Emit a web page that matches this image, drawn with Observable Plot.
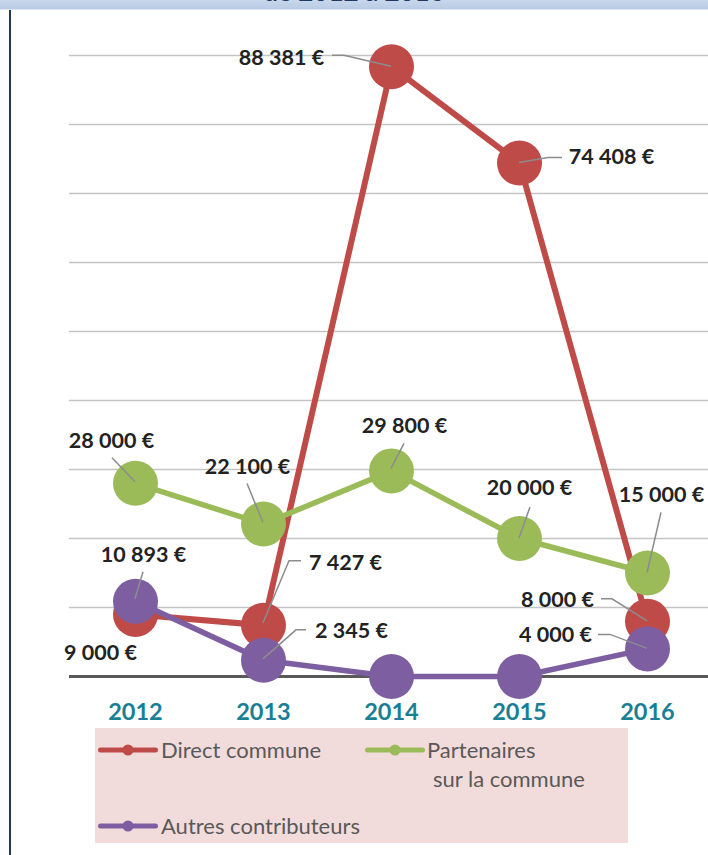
<!DOCTYPE html>
<html>
<head>
<meta charset="utf-8">
<script src="https://cdn.jsdelivr.net/npm/d3@7"></script>
<script src="https://cdn.jsdelivr.net/npm/@observablehq/plot@0.6"></script>
<style>
  html, body { margin: 0; padding: 0; background: #fff; }
  #wrap { position: relative; width: 708px; height: 855px; overflow: hidden; font-family: Lato, "Open Sans", sans-serif; }
  #band { position: absolute; left: 0; top: 0; width: 708px; height: 9px; background: linear-gradient(#c8d7eb, #b9cce5); border-bottom: 1px solid #dfe7f1; overflow: hidden; }
  #band span { position: absolute; left: 0; top: -22.5px; width: 708px; text-align: center; font: bold 26px Lato, sans-serif; line-height: 26px; color: #1f3864; white-space: nowrap; }
  #navy { position: absolute; left: 9px; top: 10px; width: 2px; height: 845px; background: #1f3864; }
  #chart { position: absolute; left: 0; top: 0; }
  #chart svg [aria-label^="x-axis"] text { font-size: 23.5px; font-weight: 700; fill: #1a7f94; font-family: Lato, sans-serif; }
  #legend { position: absolute; left: 95px; top: 728px; width: 533px; height: 115px; background: #f2dcdb; }
  .li { position: absolute; font-size: 22px; line-height: 29px; color: #595959; white-space: nowrap; }
  .sw { position: absolute; }
</style>
</head>
<body>
<div id="wrap">
  <div id="chart"></div>
  <div id="band"><span>de 2012 à 2016</span></div>
  <div id="navy"></div>
  <div id="legend"></div>
</div>
<script>
// ---- data ----
const years = [2012, 2013, 2014, 2015, 2016];
const seriesNames = ["Direct commune", "Partenaires sur la commune", "Autres contributeurs"];
const directCommune = [9000, 7427, 88381, 74408, 8000];
const partenaires = [28000, 22100, 29800, 20000, 15000];
const autres = [10893, 2345, 0, 0, 4000];
const gridValues = [10000, 20000, 30000, 40000, 50000, 60000, 70000, 80000, 90000];

// ---- styles ----
const colors = ["#be4b48", "#9bbb59", "#7d5fa1"];
const lineWidths = [6, 5.5, 5.5];
// label centre offsets (px) from each marker, per series / year
const labelOffsets = [
  [[-35, 39], [82, -62], [-110, -9], [92, -6], [-90, -21]],
  [[-24, -42], [-16, -57], [13, -45], [10, -50], [14, -78]],
  [[8, -46], [88, -29], null, null, [-92, -14]]
];
// leader line polylines (px) relative to each marker
const leaderPaths = [
  [null, [[0, -2], [26, -64], [38, -64]], [[0, 0], [-47, -11], [-59, -11]], [[0, 0], [29, -5], [43, -5]], [[0, 0], [-35, -22], [-46, -22]]],
  [[[0, -1], [-23, -25]], [[0, -1], [-16, -40]], [[0, -2], [13, -27]], [[0, 0], [11, -31]], [[0, 0], [14, -60]]],
  [[[0, -2], [8, -29]], [[0, -1], [33, -30], [43, -30]], null, null, [[0, 0], [-37, -14], [-49, -14]]]
];

const seriesValues = [directCommune, partenaires, autres];
const fmt = d3.formatLocale({decimal: ",", thousands: " ", grouping: [3], currency: ["", " €"]}).format("$,d");

const rows = seriesNames.flatMap((s, si) =>
  years.map((year, i) => ({series: s, si, i, year, value: seriesValues[si][i]})));

const labelRows = rows.filter(d => labelOffsets[d.si][d.i]);

function leaderMark(index, scales) {
  const g = d3.create("svg:g").attr("aria-label", "leaders");
  for (const d of rows) {
    const p = leaderPaths[d.si][d.i];
    if (!p) continue;
    const cx = scales.x(d.year), cy = scales.y(d.value);
    g.append("path")
      .attr("d", d3.line()(p.map(([a, b]) => [cx + a, cy + b])))
      .attr("fill", "none")
      .attr("stroke", "#8c8c8c")
      .attr("stroke-width", 1.5);
  }
  return g.node();
}

const marks = [
  Plot.ruleY(gridValues, {stroke: "#c4c4c4", strokeWidth: 1.5}),
  Plot.ruleY([0], {stroke: "#595959", strokeWidth: 3})
];
seriesNames.forEach((s, si) => {
  const data = rows.filter(d => d.si === si);
  marks.push(Plot.line(data, {x: "year", y: "value", stroke: colors[si], strokeWidth: lineWidths[si]}));
  marks.push(Plot.dot(data, {x: "year", y: "value", r: 22.5, fill: colors[si], stroke: "none"}));
});
marks.push(leaderMark);
for (const d of labelRows) {
  const [dx, dy] = labelOffsets[d.si][d.i];
  marks.push(Plot.text([d], {
    x: "year", y: "value", text: d => fmt(d.value), dx, dy,
    fontSize: 21.5, fontWeight: "bold", fill: "#222222", textAnchor: "middle"
  }));
}

const chart = Plot.plot({
  width: 708,
  height: 740,
  marginLeft: 69,
  marginRight: 0,
  marginTop: 55,
  marginBottom: 64,
  style: {fontFamily: "Lato, sans-serif", background: "transparent", overflow: "visible"},
  x: {type: "point", domain: years, range: [133, 648], padding: 0, tickSize: 0, tickPadding: 27, tickFormat: d => String(d), label: null},
  y: {domain: [0, 90000], axis: null},
  marks
});
document.getElementById("chart").appendChild(chart);

// ---- legend ----
const legend = document.getElementById("legend");
const legendItems = [
  {si: 0, sx: 3, sy: 16, tx: 66, ty: 7, html: seriesNames[0]},
  {si: 1, sx: 270, sy: 16, tx: 332, ty: 7, html: "Partenaires<br><span style=\"padding-left:6px\">sur la commune</span>"},
  {si: 2, sx: 3, sy: 92, tx: 66, ty: 83, html: seriesNames[2]}
];
for (const it of legendItems) {
  const sw = d3.create("svg").attr("class", "sw").attr("width", 60).attr("height", 12)
    .style("left", it.sx + "px").style("top", it.sy + "px");
  sw.append("line").attr("x1", 2.5).attr("x2", 57.5).attr("y1", 6).attr("y2", 6)
    .attr("stroke", colors[it.si]).attr("stroke-width", 5).attr("stroke-linecap", "round");
  sw.append("circle").attr("cx", 30).attr("cy", 6).attr("r", 5.5).attr("fill", colors[it.si]);
  legend.appendChild(sw.node());
  const t = document.createElement("div");
  t.className = "li";
  t.style.left = it.tx + "px";
  t.style.top = it.ty + "px";
  t.innerHTML = it.html;
  legend.appendChild(t);
}
</script>
</body>
</html>
